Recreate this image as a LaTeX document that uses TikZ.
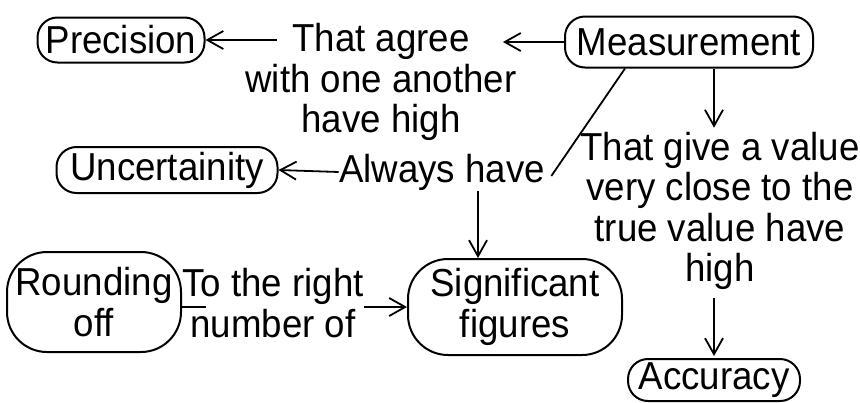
\documentclass[tikz,border=0pt]{standalone}
\usepackage{fontspec}
\setmainfont{Liberation Sans}[FakeStretch=0.94]
\usetikzlibrary{arrows.meta}

\begin{document}
\begin{tikzpicture}[
    x=0.5pt, y=-0.5pt,
    every node/.style={font=\fontsize{19.5}{20.25}\selectfont},
    concept/.style={draw, line width=1pt, rounded corners=10pt, inner sep=0pt, align=center},
    bigconcept/.style={concept, rounded corners=20pt},
    phrase/.style={inner sep=0pt, align=center},
    arrow/.style={-{Straight Barb[length=8pt,width=9pt]}, line width=0.9pt},
    link/.style={line width=0.9pt}
]
    \useasboundingbox (0,0) rectangle (860,402);

    % concepts
    \node[concept, minimum width=83.5pt, minimum height=22.5pt] (precision) at (121,40) {Precision};
    \node[concept, minimum width=124pt, minimum height=25.5pt] (measure) at (689,42) {Measurement};
    \node[concept, minimum width=110.5pt, minimum height=23pt] (uncert) at (167,170) {Uncertainity};
    \node[concept, minimum width=86pt, minimum height=21pt] (accuracy) at (714,380) {Accuracy};
    \node[bigconcept, minimum width=87pt, minimum height=50pt] (rounding) at (94,302) {Rounding\\off};
    \node[bigconcept, minimum width=107pt, minimum height=48pt] (sigfig) at (515,307) {Significant\\figures};

    % linking phrases
    \node[phrase] (agree) at (381,82) {That agree\\with one another\\have high};
    \node[phrase] (always) at (442,172) {Always have};
    \node[phrase] (closeval) at (720,211) {That give a value\\very close to the\\true value have\\high};
    \node[phrase] (rightnum) at (273,303) {To the right\\number of};

    % connectors
    \draw[arrow] (measure.west) -- ([xshift=-7pt]agree.east |- measure.west);
    \draw[arrow] ([xshift=16pt]agree.west |- precision.east) -- (precision.east);
    \draw[link] ([xshift=-32pt]measure.south) -- ([xshift=3pt,yshift=-2pt]always.east);
    \draw[arrow] (always.west) -- (uncert.east);
    \draw[arrow] ([xshift=18pt]always.south) -- ([xshift=18pt]always.south |- sigfig.north);
    \draw[arrow] (measure.south -| accuracy.north) -- ([yshift=2pt]closeval.north -| accuracy.north);
    \draw[arrow] ([yshift=-4pt]closeval.south -| accuracy.north) -- ([yshift=1pt]accuracy.north);
    \draw[link] (rounding.east |- sigfig.west) -- ([xshift=12pt]rightnum.west |- sigfig.west);
    \draw[arrow] (rightnum.east |- sigfig.west) -- (sigfig.west);
\end{tikzpicture}
\end{document}
